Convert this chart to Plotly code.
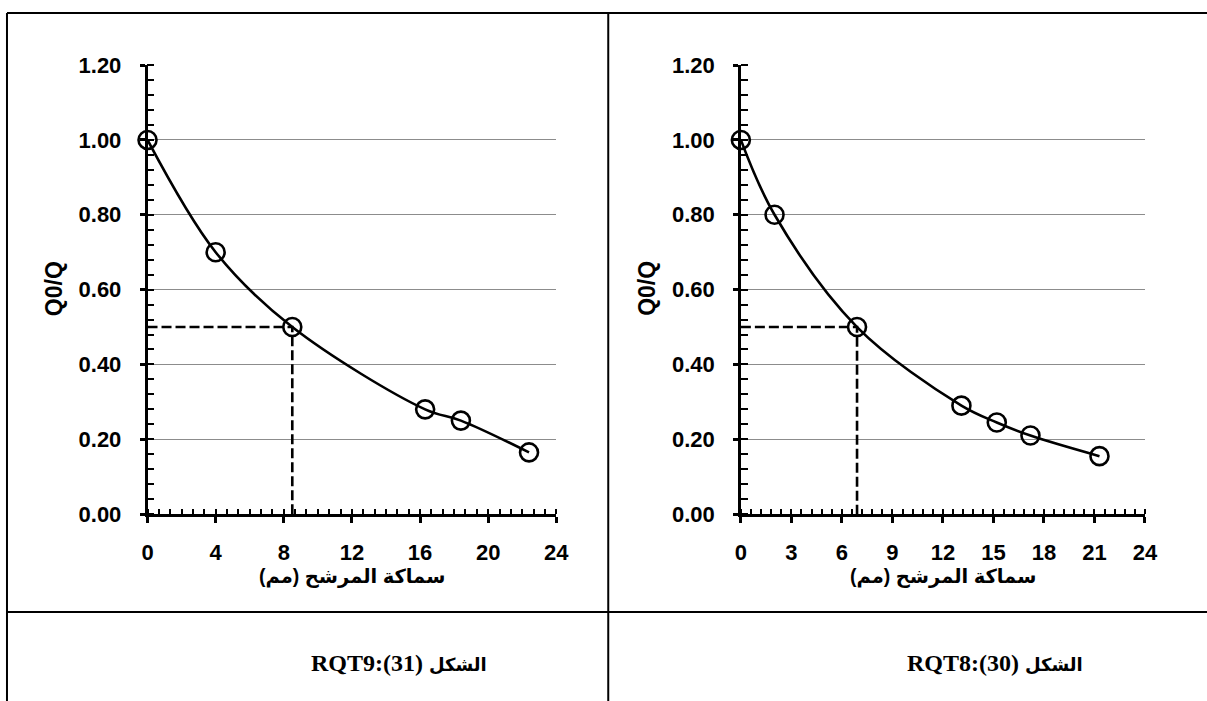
import plotly.graph_objects as go

# Filter thickness (mm) versus Q0/Q for sample RQT9 (left panel)
rqt9_thickness = [0, 4, 8.5, 16.3, 18.4, 22.4]
rqt9_ratio = [1.00, 0.70, 0.50, 0.28, 0.25, 0.165]
rqt9_half_x, rqt9_half_y = 8.5, 0.50

# Filter thickness (mm) versus Q0/Q for sample RQT8 (right panel)
rqt8_thickness = [0, 2, 6.9, 13.1, 15.2, 17.2, 21.3]
rqt8_ratio = [1.00, 0.80, 0.50, 0.29, 0.245, 0.21, 0.155]
rqt8_half_x, rqt8_half_y = 6.9, 0.50

y_ticks = [0.0, 0.2, 0.4, 0.6, 0.8, 1.0, 1.2]
rqt9_x_ticks = [0, 4, 8, 12, 16, 20, 24]
rqt8_x_ticks = [0, 3, 6, 9, 12, 15, 18, 21, 24]

x_title = "\u200fسماكة المرشح (مم)\u200f"
y_title = "Q0/Q"
caption_word = "الشكل"
rqt9_caption = "RQT9:(31)"
rqt8_caption = "RQT8:(30)"

# Layout positions are written in page pixels; the page shows the figure
# offset by the body margin and slightly rescaled, so convert them here.
W, H = 1220, 714
SX, OX = 0.985, 6.4
SY, OY = 0.967, 11.8


def px(x):
    return max((x - OX) / SX, 1) / W


def py(y):
    return 1 - max((y - OY) / SY, 1) / H


fig = go.Figure()

panels = [
    ("x", "y", rqt9_thickness, rqt9_ratio, rqt9_half_x, rqt9_half_y),
    ("x2", "y2", rqt8_thickness, rqt8_ratio, rqt8_half_x, rqt8_half_y),
]
for xa, ya, xs, ys, hx, hy in panels:
    # dashed guide to the half-value point
    fig.add_trace(go.Scatter(
        x=[0, hx, hx], y=[hy, hy, 0], xaxis=xa, yaxis=ya,
        mode="lines", line=dict(color="black", width=2.6, dash="10px,4px"),
        hoverinfo="skip", showlegend=False, cliponaxis=False,
    ))
    # measured points with a smoothed line
    fig.add_trace(go.Scatter(
        x=xs, y=ys, xaxis=xa, yaxis=ya,
        mode="lines+markers",
        line=dict(color="black", width=2.6, shape="spline", smoothing=1.0),
        marker=dict(symbol="circle-open", size=18, color="black",
                    line=dict(color="black", width=2.6)),
        showlegend=False, cliponaxis=False,
    ))

tick_font = dict(family="Liberation Sans, Arial, sans-serif", size=22,
                 color="black", weight="bold")

y_dom = [py(515), py(65)]
x_doms = {"x": [px(148), px(557)], "x2": [px(741.7), px(1146)]}
x_tick_sets = {"x": rqt9_x_ticks, "x2": rqt8_x_ticks}
x_minor = {"x": 4 / 6, "x2": 0.6}

layout_axes = {}
for xa, ya in [("x", "y"), ("x2", "y2")]:
    xkey = "xaxis" if xa == "x" else "xaxis2"
    ykey = "yaxis" if ya == "y" else "yaxis2"
    ticks = x_tick_sets[xa]
    layout_axes[xkey] = dict(
        domain=x_doms[xa], anchor=ya, range=[0, 24],
        tickmode="array", tickvals=ticks, ticktext=[str(t) for t in ticks],
        ticks="outside", ticklen=6, tickwidth=2.5, tickcolor="black",
        showline=True, linecolor="black", linewidth=2.5,
        showgrid=False, zeroline=False, tickfont=tick_font,
        ticklabelstandoff=11,
        minor=dict(dtick=x_minor[xa], tick0=0, ticks="inside", ticklen=5,
                   tickwidth=2, tickcolor="black", showgrid=False),
    )
    layout_axes[ykey] = dict(
        domain=y_dom, anchor=xa, range=[0, 1.2],
        tickmode="array", tickvals=y_ticks,
        ticktext=[f"{t:.2f}" for t in y_ticks],
        ticks="outside", ticklen=5, tickwidth=2.5, tickcolor="black",
        showline=True, linecolor="black", linewidth=2.5,
        showgrid=True, gridcolor="#8c8c8c", gridwidth=1.3,
        zeroline=False, tickfont=tick_font, ticklabelstandoff=14,
        minor=dict(dtick=0.04, tick0=0, ticks="inside", ticklen=7,
                   tickwidth=2, tickcolor="black", showgrid=False),
    )

# overlay axes carry the inner half of the major ticks
for key, over, anc, side, rng, vals, tl in [
    ("xaxis3", "x", "y", "bottom", [0, 24], rqt9_x_ticks, 5),
    ("xaxis4", "x2", "y2", "bottom", [0, 24], rqt8_x_ticks, 5),
    ("yaxis3", "y", "x", "left", [0, 1.2], y_ticks, 7),
    ("yaxis4", "y2", "x2", "left", [0, 1.2], y_ticks, 7),
]:
    layout_axes[key] = dict(
        overlaying=over, anchor=anc, side=side, range=rng,
        tickmode="array", tickvals=vals, ticks="inside", ticklen=tl,
        tickwidth=2.5, tickcolor="black", showticklabels=False,
        showline=False, showgrid=False, zeroline=False,
    )

y_title_font = dict(family="Liberation Sans, Arial, sans-serif",
                    size=23, color="black")
x_title_font = dict(family="Liberation Sans, Arial, DejaVu Sans, sans-serif",
                    size=19.5, color="black")
caption_font = dict(family="Liberation Serif, Times New Roman, DejaVu Serif, serif",
                    size=24, color="black")


def caption(code):
    return (f"<b>{code} <span style='font-family:DejaVu Sans;font-weight:bold;"
            f"font-size:18px'>{caption_word}</span></b>")


def note(x, y, text, font, angle=0, xanchor="center"):
    return dict(x=px(x), y=py(y), text=text, textangle=angle, showarrow=False,
                font=font, xref="paper", yref="paper",
                xanchor=xanchor, yanchor="middle")


annotations = [
    note(54, 289, f"<b>{y_title}</b>", y_title_font, angle=-90),
    note(647, 289, f"<b>{y_title}</b>", y_title_font, angle=-90),
    note(352.5, 577, f"<b>{x_title}</b>", x_title_font),
    note(944, 577, f"<b>{x_title}</b>", x_title_font),
    note(310, 664, caption(rqt9_caption), caption_font, xanchor="left"),
    note(906, 664, caption(rqt8_caption), caption_font, xanchor="left"),
]

# table borders around the two panels
border = dict(color="black", width=2)
top_y, left_x = 3, 6.5
shapes = [
    dict(type="line", xref="paper", yref="paper", x0=px(left_x), x1=1,
         y0=py(top_y), y1=py(top_y), line=border),
    dict(type="line", xref="paper", yref="paper", x0=px(left_x), x1=px(left_x),
         y0=py(top_y), y1=0, line=border),
    dict(type="line", xref="paper", yref="paper", x0=px(609), x1=px(609),
         y0=py(top_y), y1=0, line=border),
    dict(type="line", xref="paper", yref="paper", x0=px(left_x), x1=1,
         y0=py(613), y1=py(613), line=border),
]

fig.update_layout(
    width=W, height=H, autosize=False,
    margin=dict(l=0, r=0, t=0, b=0),
    paper_bgcolor="white", plot_bgcolor="white",
    annotations=annotations, shapes=shapes,
    **layout_axes,
)

fig.write_html("out.html")
